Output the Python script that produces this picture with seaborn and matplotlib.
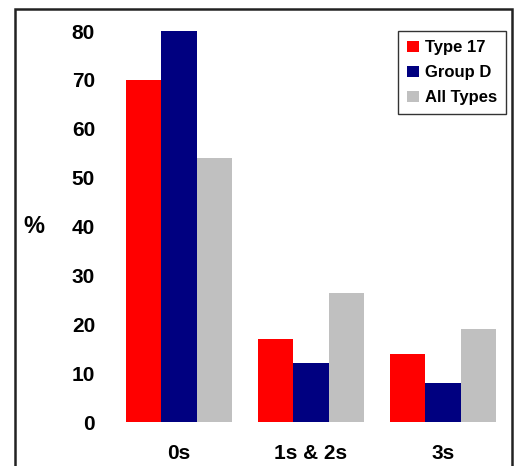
import matplotlib
matplotlib.use("Agg")
import matplotlib.pyplot as plt
import seaborn as sns
import pandas as pd
from matplotlib.patches import Rectangle

categories = ["0s", "1s & 2s", "3s"]
series = ["Type 17", "Group D", "All Types"]
type17 = [70, 17, 14]
groupd = [80, 12, 8]
alltypes = [54, 26.5, 19]
yticks = [0, 10, 20, 30, 40, 50, 60, 70, 80]
colors = ["#FF0000", "#000080", "#C0C0C0"]

rows = []
for s, vals in zip(series, [type17, groupd, alltypes]):
    for c, v in zip(categories, vals):
        rows.append({"cat": c, "series": s, "val": v})
df = pd.DataFrame(rows)

sns.set_theme(style="white")
plt.rcParams['font.family'] = ['Liberation Sans', 'DejaVu Sans']
plt.rcParams['text.color'] = 'black'
plt.rcParams['axes.labelcolor'] = 'black'
plt.rcParams['xtick.color'] = 'black'
plt.rcParams['ytick.color'] = 'black'

fig = plt.figure(figsize=(5.21, 4.66), dpi=100)
ax = fig.add_axes([0.217, 0.0944, 0.760, 0.884])
sns.barplot(data=df, x="cat", y="val", hue="series", palette=colors,
            order=categories, hue_order=series, ax=ax, width=0.8,
            saturation=1, edgecolor="none", linewidth=0)
ax.set_xlim(-0.5, 2.5)
ax.set_ylim(0, 84.3)
ax.set_yticks(yticks)
ax.set_yticklabels([str(t) for t in yticks], fontsize=15, fontweight="bold")
ax.set_xticks(range(len(categories)))
ax.set_xticklabels(categories, fontsize=15, fontweight="bold")
ax.tick_params(axis="y", length=0, pad=13)
ax.tick_params(axis="x", length=0, pad=16)
for sp in ax.spines.values():
    sp.set_visible(False)
ax.set_xlabel("")
ax.set_ylabel("%", rotation=0, fontsize=17, fontweight="bold", labelpad=14, va="center")
ax.yaxis.set_label_coords(-0.2, 0.475)

handles, labels = ax.get_legend_handles_labels()
leg = ax.legend(handles, labels, loc="upper right", bbox_to_anchor=(0.992, 0.949),
                borderaxespad=0, frameon=True, fancybox=False, edgecolor="black",
                prop={"weight": "bold", "size": 12}, handlelength=0.7,
                handleheight=0.7, handletextpad=0.35, labelspacing=0.6,
                borderpad=0.55)
leg.get_frame().set_linewidth(1.0)

fig.patches.append(Rectangle((15/521, -0.01), (512-15)/521, (466-9)/466 + 0.01,
                             transform=fig.transFigure, fill=False,
                             edgecolor="#222222", linewidth=1.8))

fig.savefig("out.png", dpi=100)
